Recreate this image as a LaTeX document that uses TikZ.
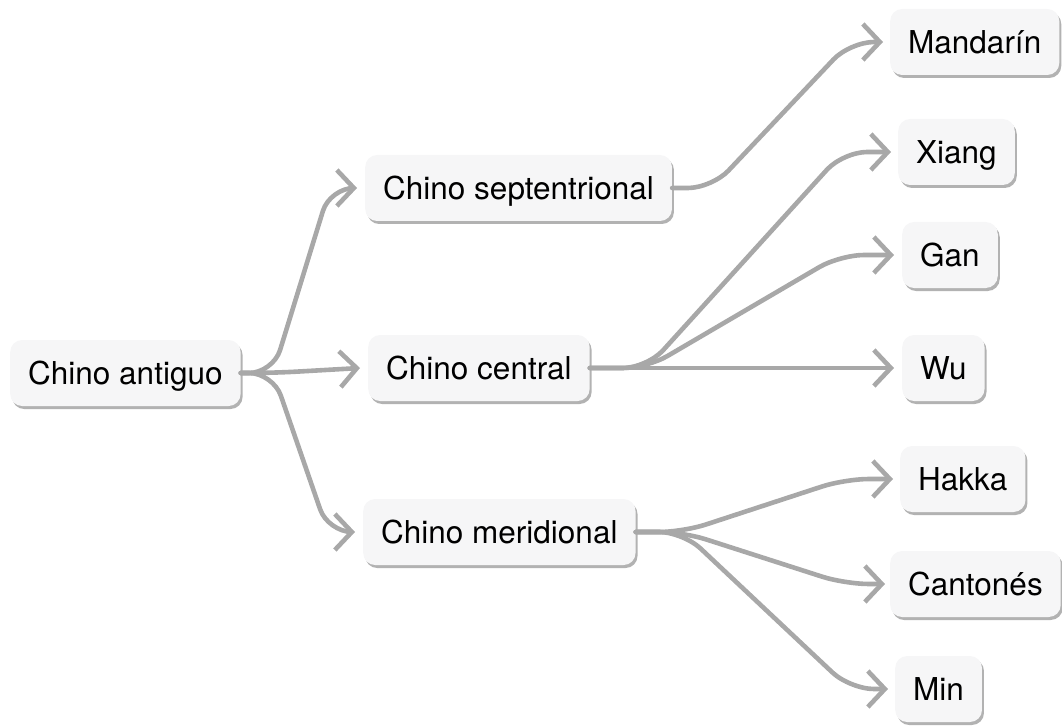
\documentclass[tikz,border=0pt]{standalone}
\usepackage{fontspec}
\setmainfont{TeX Gyre Heros}
\usetikzlibrary{arrows.meta,shadows,calc}
\definecolor{linkgray}{HTML}{A8A8A8}
\definecolor{boxfill}{HTML}{F6F6F7}
\begin{document}
\begin{tikzpicture}[x=1pt,y=-1pt,
  lang/.style={fill=boxfill, rounded corners=12pt, inner xsep=18pt, inner ysep=0pt,
    minimum height=66pt, text height=23pt, text depth=0pt,
    font=\fontsize{31.5}{36}\selectfont, anchor=west,
    drop shadow={shadow xshift=2pt, shadow yshift=-3pt, fill=black!55, opacity=0.55}},
  link/.style={draw=linkgray, line width=4.6pt, rounded corners=24pt, line cap=round,
    -{Straight Barb[length=17pt,width=36pt]}}]
\useasboundingbox (0,0) rectangle (1062,727);

% language nodes
\node[lang] (antiguo) at (10,373)  {Chino antiguo};
\node[lang] (sept)    at (365,188) {Chino septentrional};
\node[lang] (central) at (368,368) {Chino central};
\node[lang] (merid)   at (363,532) {Chino meridional};

\node[lang] (mand)   at (890,42)  {Mandarín};
\node[lang] (xiang)  at (898,152) {Xiang};
\node[lang] (gan)    at (902,255) {Gan};
\node[lang] (wu)     at (902,368) {Wu};
\node[lang] (hakka)  at (900,479) {Hakka};
\node[lang] (canton) at (890,584) {Cantonés};
\node[lang] (min)    at (895,689) {Min};

% branch points
\coordinate (bA) at (273,373);
\coordinate (bS) at (712,188);
\coordinate (bC) at (647,368);
\coordinate (bM) at (683,532);

% connectors
\draw[link] (antiguo.east) -- (bA) -- ($(sept.west)+(-35,0)$) -- ([xshift=-8pt]sept.west);
\draw[link] (antiguo.east) -- (bA) -- ([xshift=-8pt]central.west);
\draw[link] (antiguo.east) -- (bA) -- ($(merid.west)+(-35,0)$) -- ([xshift=-8pt]merid.west);

\draw[link] (sept.east) -- (bS) -- ($(mand.west)+(-40,0)$) -- ([xshift=-7pt]mand.west);

\draw[link] (central.east) -- (bC) -- ($(xiang.west)+(-55,0)$) -- ([xshift=-7pt]xiang.west);
\draw[link] (central.east) -- (bC) -- ($(gan.west)+(-62,0)$) -- ([xshift=-8pt]gan.west);
\draw[link] (central.east) -- ([xshift=-8pt]wu.west);

\draw[link] (merid.east) -- (bM) -- ($(hakka.west)+(-55,0)$) -- ([xshift=-7pt]hakka.west);
\draw[link] (merid.east) -- (bM) -- ($(canton.west)+(-45,0)$) -- ([xshift=-5pt]canton.west);
\draw[link] (merid.east) -- (bM) -- ($(min.west)+(-45,0)$) -- ([xshift=-7pt]min.west);
\end{tikzpicture}
\end{document}
